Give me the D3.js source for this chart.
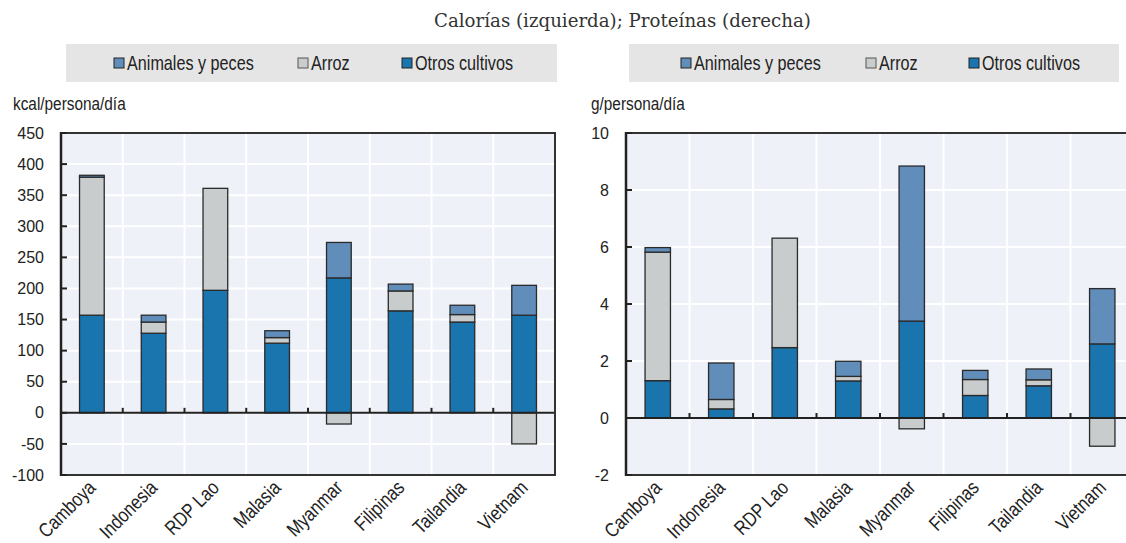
<!DOCTYPE html>
<html>
<head>
<meta charset="utf-8">
<script src="https://cdn.jsdelivr.net/npm/d3@7"></script>
<style>
  html, body { margin: 0; padding: 0; background: #fff; }
  svg { display: block; }
</style>
</head>
<body>
<svg id="chart" width="1126" height="543"></svg>
<script>
// ---------------- DATA ----------------
const categories = ["Camboya", "Indonesia", "RDP Lao", "Malasia", "Myanmar", "Filipinas", "Tailandia", "Vietnam"];
const seriesNames = ["Animales y peces", "Arroz", "Otros cultivos"];

// Calorías (kcal/persona/día)
const kcalOtros    = [157, 128, 197, 112, 217, 164, 146, 157];
const kcalArroz    = [222, 18, 164, 9, -18, 32, 12, -50];
const kcalAnimales = [3, 11, 0, 11, 57, 11, 15, 48];

// Proteínas (g/persona/día)
const protOtros    = [1.31, 0.32, 2.47, 1.30, 3.40, 0.79, 1.13, 2.60];
const protArroz    = [4.51, 0.33, 3.84, 0.16, -0.38, 0.56, 0.21, -0.99];
const protAnimales = [0.16, 1.28, 0, 0.53, 5.44, 0.32, 0.38, 1.94];

const kcalTicks = [-100, -50, 0, 50, 100, 150, 200, 250, 300, 350, 400, 450];
const protTicks = [-2, 0, 2, 4, 6, 8, 10];

const titleText = "Calorías (izquierda); Proteínas (derecha)";

// ---------------- STYLE ----------------
const colors = {
  "Otros cultivos": "#1a75ae",
  "Arroz": "#c9cccc",
  "Animales y peces": "#618dba"
};
const sans = "'Liberation Sans', Arial, sans-serif";
const NARROW = 0.83;

const svg = d3.select("#chart");

function narrowText(parent, x, y, str, size, extra) {
  return parent.append("text")
    .attr("transform", `translate(${x},${y})${extra || ""} scale(${NARROW},1)`)
    .attr("font-family", sans)
    .attr("font-size", size)
    .attr("fill", "#222")
    .text(str);
}

svg.append("text")
  .attr("x", 434).attr("y", 27)
  .attr("font-family", "'DejaVu Serif', serif")
  .attr("font-size", 18.2)
  .attr("fill", "#333")
  .text(titleText);

function panel(opts) {
  const { x0, x1, y0, y1, domain, ticks, otros, arroz, animales, unit, unitX, legendX0, legendX1, legendDx } = opts;
  const g = svg.append("g");

  // legend band
  g.append("rect")
    .attr("x", legendX0).attr("y", 44)
    .attr("width", legendX1 - legendX0).attr("height", 38)
    .attr("fill", "#e5e5e5");

  seriesNames.forEach((name, i) => {
    const lx = legendX0 + legendDx[i];
    g.append("rect")
      .attr("x", lx).attr("y", 58)
      .attr("width", 10).attr("height", 10)
      .attr("fill", colors[name])
      .attr("stroke", name === "Arroz" ? "#555" : "#222")
      .attr("stroke-width", 1);
    narrowText(g, lx + 13, 69.5, name, 19.5);
  });

  // unit label
  narrowText(g, unitX, 110, unit, 18.5);

  const x = d3.scaleBand().domain(categories).range([x0, x1]).paddingInner(0.6).paddingOuter(0.3);
  const y = d3.scaleLinear().domain(domain).range([y1, y0]);
  const step = x.step();

  // background
  g.append("rect")
    .attr("x", x0).attr("y", y0)
    .attr("width", x1 - x0).attr("height", y1 - y0)
    .attr("fill", "#eef1f8");

  // gridlines
  g.selectAll(".hg").data(ticks).enter().append("line")
    .attr("x1", x0).attr("x2", x1)
    .attr("y1", d => y(d)).attr("y2", d => y(d))
    .attr("stroke", "#fff").attr("stroke-width", 2);
  const bounds = d3.range(1, categories.length).map(i => x0 + i * step);
  g.selectAll(".vg").data(bounds).enter().append("line")
    .attr("x1", d => d).attr("x2", d => d)
    .attr("y1", y0).attr("y2", y1)
    .attr("stroke", "#fff").attr("stroke-width", 2);

  // stacked bars
  const rows = categories.map((c, i) => ({
    cat: c,
    "Otros cultivos": otros[i],
    "Arroz": arroz[i],
    "Animales y peces": animales[i]
  }));
  const stack = d3.stack()
    .keys(["Otros cultivos", "Arroz", "Animales y peces"])
    .offset(d3.stackOffsetDiverging);
  const layers = stack(rows);
  layers.forEach(layer => {
    g.selectAll(null).data(layer.filter(d => d[1] !== d[0])).enter().append("rect")
      .attr("x", d => x(d.data.cat))
      .attr("width", x.bandwidth())
      .attr("y", d => y(Math.max(d[0], d[1])))
      .attr("height", d => Math.abs(y(d[0]) - y(d[1])))
      .attr("fill", colors[layer.key])
      .attr("stroke", "#2a2a2a")
      .attr("stroke-width", 1.3);
  });

  // zero line
  g.append("line")
    .attr("x1", x0).attr("x2", x1)
    .attr("y1", y(0)).attr("y2", y(0))
    .attr("stroke", "#222").attr("stroke-width", 2);
  // x ticks at boundaries
  g.selectAll(".xt").data(bounds).enter().append("line")
    .attr("x1", d => d).attr("x2", d => d)
    .attr("y1", y(0)).attr("y2", y(0) - 5)
    .attr("stroke", "#222").attr("stroke-width", 2);

  // frame
  g.append("rect")
    .attr("x", x0).attr("y", y0)
    .attr("width", x1 - x0).attr("height", y1 - y0)
    .attr("fill", "none")
    .attr("stroke", "#333").attr("stroke-width", 2);
  g.append("line")
    .attr("x1", x0).attr("x2", x0).attr("y1", y0 - 1).attr("y2", y1 + 1)
    .attr("stroke", "#222").attr("stroke-width", 2.5);

  // y ticks (inward) and labels
  g.selectAll(".yt").data(ticks).enter().append("line")
    .attr("x1", x0).attr("x2", x0 + 6)
    .attr("y1", d => y(d)).attr("y2", d => y(d))
    .attr("stroke", "#222").attr("stroke-width", 2);
  g.selectAll(".yl").data(ticks).enter().append("text")
    .attr("x", x0 - 17)
    .attr("y", d => y(d))
    .attr("dy", "0.35em")
    .attr("text-anchor", "end")
    .attr("font-family", sans)
    .attr("font-size", 16)
    .attr("fill", "#222")
    .text(d => d);

  // category labels (rotated)
  g.selectAll(".xl").data(categories).enter().append("text")
    .attr("transform", d => `translate(${x(d) + x.bandwidth() / 2 - 5},${y1 + 4}) rotate(-45) scale(${NARROW},1)`)
    .attr("text-anchor", "end")
    .attr("dy", "0.7em")
    .attr("font-family", sans)
    .attr("font-size", 20)
    .attr("fill", "#222")
    .text(d => d);
}

panel({
  x0: 61, x1: 555, y0: 133, y1: 475,
  domain: [-100, 450], ticks: kcalTicks,
  otros: kcalOtros, arroz: kcalArroz, animales: kcalAnimales,
  unit: "kcal/persona/día", unitX: 13,
  legendX0: 66, legendX1: 557, legendDx: [48, 232, 336]
});

panel({
  x0: 626, x1: 1134, y0: 133, y1: 475,
  domain: [-2, 10], ticks: protTicks,
  otros: protOtros, arroz: protArroz, animales: protAnimales,
  unit: "g/persona/día", unitX: 591,
  legendX0: 629, legendX1: 1119, legendDx: [52, 237, 340]
});
</script>
</body>
</html>
